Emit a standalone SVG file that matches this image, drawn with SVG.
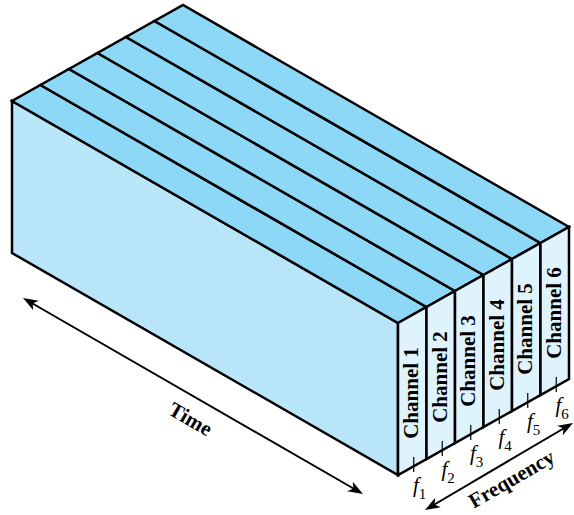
<svg xmlns="http://www.w3.org/2000/svg" width="574" height="515" viewBox="0 0 574 515">
<defs>
<marker id="arr" viewBox="-10 -7 17 14" markerWidth="17" markerHeight="14" refX="0" refY="0" markerUnits="userSpaceOnUse" orient="auto-start-reverse">
<path d="M6,0 L-9,-5.5 L-5,0 L-9,5.5 Z" fill="#000"/>
</marker>
</defs>
<style>
.edge{stroke:#000;stroke-width:2.5;stroke-linejoin:miter}
.front{fill:#b9e5f9}
.top{fill:#8dd8f7}
.side{fill:#dff3fd}
.ch{font-family:"Liberation Serif","Times New Roman",serif;font-weight:bold;font-size:21px;fill:#000}
.lbl{font-family:"Liberation Serif","Times New Roman",serif;font-weight:bold;font-size:21px;fill:#000}
.f{font-family:"Liberation Serif","Times New Roman",serif;font-style:italic;font-size:21px;fill:#000}
.sub{font-style:normal;font-size:15px}
.tick{stroke:#000;stroke-width:1.2}
.axis{stroke:#000;stroke-width:2;fill:none}
</style>
<g id="front-face">
<polygon class="front edge" points="12,101 398,323 398,475 12,253"/>
</g>
<g id="channel-1">
<polygon class="top edge" points="398,323 426.5,307 40.5,85 12,101"/>
<polygon class="side edge" points="398,323 426.5,307 426.5,459 398,475"/>
<text class="ch" transform="translate(418,393) rotate(-90)" text-anchor="middle">Channel 1</text>
<line class="tick" x1="413.75" y1="457" x2="413.75" y2="472"/>
<text class="f" x="413" y="492">f<tspan class="sub" dy="7">1</tspan></text>
</g>
<g id="channel-2">
<polygon class="top edge" points="426.5,307 455,291 69,69 40.5,85"/>
<polygon class="side edge" points="426.5,307 455,291 455,443 426.5,459"/>
<text class="ch" transform="translate(446.5,377) rotate(-90)" text-anchor="middle">Channel 2</text>
<line class="tick" x1="442.25" y1="441" x2="442.25" y2="456"/>
<text class="f" x="441.5" y="476">f<tspan class="sub" dy="7">2</tspan></text>
</g>
<g id="channel-3">
<polygon class="top edge" points="455,291 483.5,275 97.5,53 69,69"/>
<polygon class="side edge" points="455,291 483.5,275 483.5,427 455,443"/>
<text class="ch" transform="translate(475,361) rotate(-90)" text-anchor="middle">Channel 3</text>
<line class="tick" x1="470.75" y1="425" x2="470.75" y2="440"/>
<text class="f" x="470" y="460">f<tspan class="sub" dy="7">3</tspan></text>
</g>
<g id="channel-4">
<polygon class="top edge" points="483.5,275 512,259 126,37 97.5,53"/>
<polygon class="side edge" points="483.5,275 512,259 512,411 483.5,427"/>
<text class="ch" transform="translate(503.5,345) rotate(-90)" text-anchor="middle">Channel 4</text>
<line class="tick" x1="499.25" y1="409" x2="499.25" y2="424"/>
<text class="f" x="498.5" y="444">f<tspan class="sub" dy="7">4</tspan></text>
</g>
<g id="channel-5">
<polygon class="top edge" points="512,259 540.5,243 154.5,21 126,37"/>
<polygon class="side edge" points="512,259 540.5,243 540.5,395 512,411"/>
<text class="ch" transform="translate(532,329) rotate(-90)" text-anchor="middle">Channel 5</text>
<line class="tick" x1="527.75" y1="393" x2="527.75" y2="408"/>
<text class="f" x="527" y="428">f<tspan class="sub" dy="7">5</tspan></text>
</g>
<g id="channel-6">
<polygon class="top edge" points="540.5,243 569,227 183,5 154.5,21"/>
<polygon class="side edge" points="540.5,243 569,227 569,379 540.5,395"/>
<text class="ch" transform="translate(560.5,313) rotate(-90)" text-anchor="middle">Channel 6</text>
<line class="tick" x1="556.25" y1="377" x2="556.25" y2="392"/>
<text class="f" x="555.5" y="412">f<tspan class="sub" dy="7">6</tspan></text>
</g>
<g id="connectors">
<line class="axis" x1="28.2" y1="301" x2="357.8" y2="491" marker-start="url(#arr)" marker-end="url(#arr)"/>
<line class="axis" x1="430.2" y1="507" x2="567.8" y2="426" marker-start="url(#arr)" marker-end="url(#arr)"/>
</g>
<g id="axis-labels">
<text class="lbl" transform="translate(187,425) rotate(30)" text-anchor="middle">Time</text>
<text class="lbl" transform="translate(515,485) rotate(-30)" text-anchor="middle">Frequency</text>
</g>
</svg>
